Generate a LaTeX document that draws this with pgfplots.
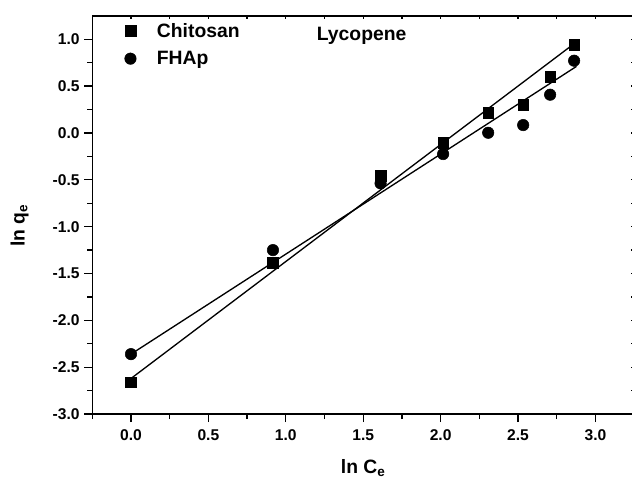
\documentclass[border=0pt]{standalone}
\usepackage{fontspec}
\setmainfont{Liberation Sans}
\usepackage{pgfplots}
\pgfplotsset{compat=1.18}
\usetikzlibrary{calc}

\newcommand{\lblfont}{\fontsize{14.5}{16}\selectfont\bfseries}
\newcommand{\tickfont}{\fontsize{11.7}{13}\selectfont\bfseries}

\begin{document}
\begin{tikzpicture}
% main axis: outward ticks left and bottom
\begin{axis}[
  name=ax,
  scale only axis,
  width=406.4pt, height=298.7pt,
  xmin=-0.25, xmax=3.25, ymin=-3, ymax=1.25,
  axis line style={line width=1.1pt},
  xtick={0,0.5,1,1.5,2,2.5,3},
  xticklabels={0.0,0.5,1.0,1.5,2.0,2.5,3.0},
  minor xtick={-0.25,0.25,0.75,1.25,1.75,2.25,2.75,3.25},
  ytick={-3,-2.5,-2,-1.5,-1,-0.5,0,0.5,1},
  yticklabels={-3.0,-2.5,-2.0,-1.5,-1.0,-0.5,0.0,0.5,1.0},
  minor ytick={-2.75,-2.25,-1.75,-1.25,-0.75,-0.25,0.25,0.75},
  xtick pos=bottom, ytick pos=left, tick align=outside,
  major tick length=6pt, minor tick length=3.75pt,
  every tick/.style={line width=1pt, black},
  ticklabel style={font=\tickfont},
  xticklabel style={yshift=-2pt},
  xlabel={ln C\textsubscript{e}},
  ylabel={ln q\textsubscript{e}},
  label style={font=\lblfont},
  xlabel style={at={(axis description cs:0.5,-0.15)}, anchor=base},
  ylabel style={at={(axis description cs:-0.125,0.473)}, anchor=base},
  legend style={draw=none, fill=none, font=\lblfont,
                at={(rel axis cs:0.052,0.996)}, anchor=north west,
                cells={anchor=west}, row sep=5pt},
  legend image code/.code={\draw[#1] plot coordinates {(0cm,0cm)}; \path (0.62cm,0cm);},
]
\addplot[only marks, mark=square*, mark size=4pt, black] coordinates
  {(0,-2.66) (0.917,-1.385) (1.612,-0.46) (2.016,-0.105) (2.307,0.216)
   (2.533,0.298) (2.707,0.600) (2.862,0.938)};
\addlegendentry{Chitosan}
\addplot[only marks, mark=*, mark size=4.3pt, black] coordinates
  {(0,-2.36) (0.917,-1.25) (1.612,-0.538) (2.016,-0.225) (2.307,0.002)
   (2.533,0.084) (2.707,0.408) (2.862,0.771)};
\addlegendentry{FHAp}
% fitted lines
\addplot[line width=1pt, black, forget plot] coordinates {(0,-2.62) (2.86,0.95)};
\addplot[line width=1pt, black, forget plot] coordinates {(0,-2.36) (2.877,0.71)};
\node[anchor=base west, font=\lblfont, inner sep=0pt] at (axis cs:1.199,0.984) {Lycopene};
\end{axis}
% overlay axis: inward ticks on top and right
\begin{axis}[
  scale only axis,
  width=406.4pt, height=298.7pt,
  xmin=-0.25, xmax=3.25, ymin=-3, ymax=1.25,
  axis line style={line width=1.1pt},
  xtick={0,0.25,0.5,0.75,1,1.25,1.5,1.75,2,2.25,2.5,2.75,3},
  ytick={-2.75,-2.5,-2.25,-2,-1.75,-1.5,-1.25,-1,-0.75,-0.5,-0.25,0,0.25,0.5,0.75,1},
  xticklabels={}, yticklabels={},
  xtick pos=top, ytick pos=right, tick align=inside,
  major tick length=2.5pt,
  every tick/.style={line width=1pt, black},
]
\end{axis}
\pgfresetboundingbox
\path[use as bounding box] ($(ax.south west)+(-69.2pt,-48.75pt)$) rectangle ($(ax.north east)+(-1.65pt,11.85pt)$);
\end{tikzpicture}
\end{document}
